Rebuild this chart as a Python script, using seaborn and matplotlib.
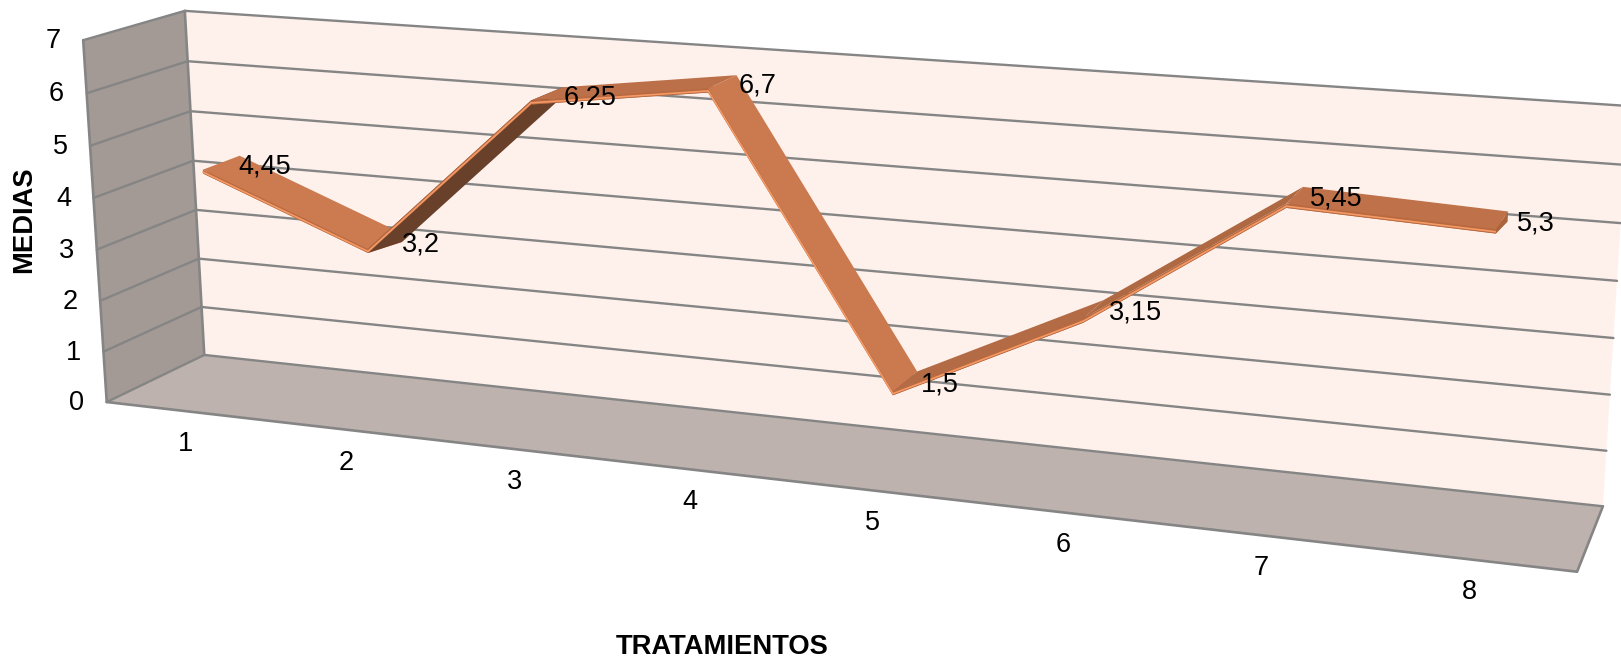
import numpy as np
import pandas as pd
import matplotlib
matplotlib.use("Agg")
import matplotlib.pyplot as plt
import seaborn as sns

# Chart content
categories = [1, 2, 3, 4, 5, 6, 7, 8]
medias = [4.45, 3.2, 6.25, 6.7, 1.5, 3.15, 5.45, 5.3]
value_ticks = [0, 1, 2, 3, 4, 5, 6, 7]
x_title = "TRATAMIENTOS"
y_title = "MEDIAS"

# Ribbon shading, one colour per segment between neighbouring treatments
segment_colors = ["#CC7B50", "#69402A", "#BC7049", "#CB7A50", "#B36B46", "#AE6842", "#BF7149"]

WALL = "#FEF1EC"
SIDE = "#A39A95"
FLOOR = "#BDB2AE"
EDGE = "#858585"
HILITE = "#F59A66"
DARK_EDGE = "#B8693F"
END_CAP = "#AC643D"

W, H = 1621, 661
CAT_MIN, CAT_MAX = 0.5, 8.5
VAL_MAX = 7.0
RIBBON_FRONT, RIBBON_BACK = 0.31, 0.69
RIBBON_THICK = 0.075
RIBBON_BACK_DROP = 0.17
LABEL_DEPTH = 0.54
FONT = 19.5

# Box corners in the canvas: (category, value, depth) -> (px, py), depth 0 = front, 1 = back
box_world = np.array([
    [CAT_MIN, 0, 0], [CAT_MIN, VAL_MAX, 0], [CAT_MIN, 0, 1], [CAT_MIN, VAL_MAX, 1],
    [CAT_MAX, 0, 0], [CAT_MAX, 0, 1], [CAT_MAX, VAL_MAX, 1],
], dtype=float)
box_canvas = np.array([
    [107, 402], [83, 40], [204, 355], [185, 11],
    [1577, 572], [1603, 506], [1628, 106],
], dtype=float)


def fit_camera(world, canvas):
    """Solve the 3x4 perspective camera for the chart box."""
    rows = []
    for (x, y, z), (u, v) in zip(world, canvas):
        rows.append([x, y, z, 1, 0, 0, 0, 0, -u * x, -u * y, -u * z, -u])
        rows.append([0, 0, 0, 0, x, y, z, 1, -v * x, -v * y, -v * z, -v])
    return np.linalg.svd(np.array(rows))[2][-1].reshape(3, 4)


CAMERA = fit_camera(box_world, box_canvas)


def project(cat, val, depth):
    cat, val, depth = np.broadcast_arrays(np.asarray(cat, float), np.asarray(val, float), np.asarray(depth, float))
    pts = np.stack([cat, val, depth, np.ones_like(cat)], axis=-1) @ CAMERA.T
    return pts[..., 0] / pts[..., 2], pts[..., 1] / pts[..., 2]


def polygon(ax, cats, vals, depths, **kw):
    px, py = project(cats, vals, depths)
    ax.fill(px, py, **kw)


def lines(ax, paths, color, lw, zorder):
    """Draw several projected paths through seaborn, one unit per path."""
    rows = []
    for i, (cats, vals, depths) in enumerate(paths):
        px, py = project(cats, vals, depths)
        rows.append(pd.DataFrame({"px": px, "py": py, "path": i}))
    sns.lineplot(data=pd.concat(rows), x="px", y="py", units="path", estimator=None, sort=False,
                 color=color, linewidth=lw, zorder=zorder, ax=ax, legend=False)


sns.set_theme(style="white")
plt.rcParams["font.family"] = ["Liberation Sans", "DejaVu Sans"]
plt.rcParams["text.color"] = "black"
fig = plt.figure(figsize=(W / 100, H / 100), dpi=100)
ax = fig.add_axes([0, 0, 1, 1])

# Walls and floor
polygon(ax, [CAT_MIN, CAT_MAX, CAT_MAX, CAT_MIN], [0, 0, VAL_MAX, VAL_MAX], [1, 1, 1, 1], color=WALL, lw=0, zorder=1)
polygon(ax, [CAT_MIN, CAT_MIN, CAT_MIN, CAT_MIN], [0, 0, VAL_MAX, VAL_MAX], [0, 1, 1, 0], color=SIDE, lw=0, zorder=1)
polygon(ax, [CAT_MIN, CAT_MAX, CAT_MAX, CAT_MIN], [0, 0, 0, 0], [0, 0, 1, 1], color=FLOOR, lw=0, zorder=1)

# Gridlines across the back wall and the side wall
grid_paths = [([CAT_MIN, CAT_MIN, CAT_MAX], [v, v, v], [0, 1, 1]) for v in value_ticks]
lines(ax, grid_paths, EDGE, 1.7, 2)
frame_paths = [
    ([CAT_MIN, CAT_MIN], [0, VAL_MAX], [0, 0]),
    ([CAT_MIN, CAT_MIN], [0, VAL_MAX], [1, 1]),
    ([CAT_MIN, CAT_MAX, CAT_MAX], [0, 0, 0], [0, 0, 1]),
]
lines(ax, frame_paths, EDGE, 1.9, 2)

# Ribbon, painted from left to right so later segments cover the joints
for i in range(len(categories) - 1):
    c = categories[i:i + 2]
    m = medias[i:i + 2]
    z = 3 + i * 0.1
    low = [m[0] - RIBBON_THICK, m[1] - RIBBON_THICK]
    back_low = [m[0] - RIBBON_BACK_DROP, m[1] - RIBBON_BACK_DROP]
    # underside gives the ribbon its solid silhouette on rising stretches
    polygon(ax, [c[0], c[1], c[1], c[0]], [low[0], low[1], back_low[1], back_low[0]],
            [RIBBON_FRONT, RIBBON_FRONT, RIBBON_BACK, RIBBON_BACK],
            color=segment_colors[i], lw=0, zorder=z)
    polygon(ax, [c[0], c[1], c[1], c[0]], [m[0], m[1], m[1], m[0]],
            [RIBBON_FRONT, RIBBON_FRONT, RIBBON_BACK, RIBBON_BACK],
            color=segment_colors[i], lw=0, zorder=z + 0.01)
    # front face with its bright bevel
    polygon(ax, [c[0], c[1], c[1], c[0]], [m[0], m[1], low[1], low[0]], [RIBBON_FRONT] * 4,
            color=DARK_EDGE, lw=0, zorder=z + 0.02)
    lines(ax, [(c, [m[0] - RIBBON_THICK * 0.6, m[1] - RIBBON_THICK * 0.6], [RIBBON_FRONT] * 2)],
          HILITE, 1.2, z + 0.03)

# Closing face at the right end of the ribbon
end_cat, end_val = categories[-1], medias[-1]
polygon(ax, [end_cat] * 4,
        [end_val, end_val, end_val - RIBBON_BACK_DROP, end_val - RIBBON_THICK],
        [RIBBON_FRONT, RIBBON_BACK, RIBBON_BACK, RIBBON_FRONT],
        color=END_CAP, lw=0, zorder=4)

# Value labels beside the ribbon
for cat, val in zip(categories, medias):
    px, py = project(cat, val, LABEL_DEPTH)
    ax.annotate(f"{val:g}".replace(".", ","), (px, py), xytext=(13.5, -5), textcoords="offset pixels",
                ha="left", va="center", fontsize=FONT, color="black", zorder=6)

# Axis tick labels
for v in value_ticks:
    px, py = project(CAT_MIN, v, 0)
    ax.annotate(str(v), (px, py), xytext=(-30, -1), textcoords="offset pixels",
                ha="center", va="center", fontsize=FONT, color="black", zorder=6)
for cat in categories:
    px, py = project(cat, 0, 0)
    ax.annotate(str(cat), (px, py), xytext=(0, -33), textcoords="offset pixels",
                ha="center", va="center", fontsize=FONT, color="black", zorder=6)

# Axis titles
ax.text(24, 220, y_title, rotation=90, ha="center", va="center", fontsize=19.7, fontweight="bold",
        color="black", zorder=6)
ax.text(722, 647, x_title, ha="center", va="center", fontsize=19.7, fontweight="bold",
        color="black", zorder=6)

ax.set_xlim(0, W)
ax.set_ylim(H, 0)
ax.axis("off")
fig.savefig("out.png", dpi=100, facecolor="white")
